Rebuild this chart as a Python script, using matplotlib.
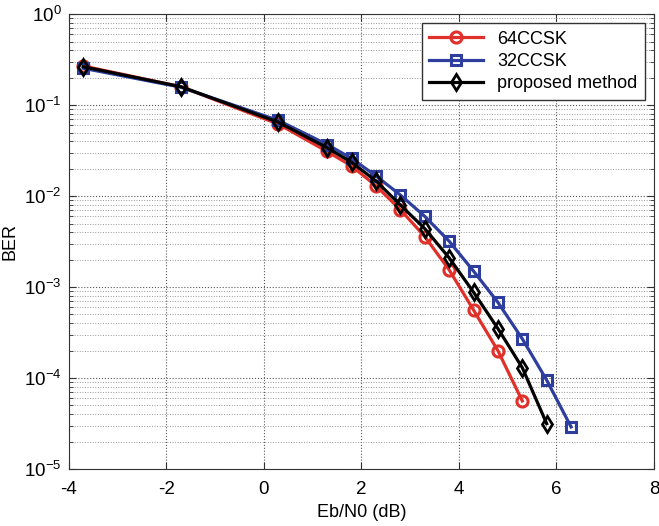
import matplotlib
matplotlib.use("Agg")
import matplotlib.pyplot as plt
from matplotlib.ticker import LogLocator, NullFormatter

plt.rcParams["font.family"] = ["Liberation Sans", "DejaVu Sans"]
plt.rcParams["axes.unicode_minus"] = False

ebn0 = [-3.7, -1.7, 0.3, 1.3, 1.8, 2.3, 2.8, 3.3, 3.8, 4.3, 4.8, 5.3, 5.8, 6.3]

ber_64 = [0.27, 0.16, 0.062, 0.031, 0.0215, 0.013, 0.0071, 0.0036,
          0.00155, 5.6e-4, 2.0e-4, 5.6e-5]
ber_32 = [0.255, 0.158, 0.068, 0.037, 0.026, 0.0167, 0.0103, 0.006,
          0.0032, 1.5e-3, 6.8e-4, 2.7e-4, 9.5e-5, 2.9e-5]
ber_prop = [0.265, 0.16, 0.065, 0.034, 0.0236, 0.0147, 0.008, 0.0044,
            0.0021, 8.8e-4, 3.5e-4, 1.3e-4, 3.15e-5]

fig = plt.figure(figsize=(6.59, 5.26), dpi=100)
ax = fig.add_axes([0.1042, 0.1084, 0.8882, 0.8644])

ax.semilogy(ebn0[:len(ber_64)], ber_64, color="#e0302a", lw=2.3, marker="o",
            ms=8, mfc="none", mew=2.2, label="64CCSK")
ax.semilogy(ebn0[:len(ber_32)], ber_32, color="#2e3e9e", lw=2.3, marker="s",
            ms=7.5, mfc="none", mew=2.2, label="32CCSK")
ax.semilogy(ebn0[:len(ber_prop)], ber_prop, color="black", lw=2.3, marker="d",
            ms=8, mfc="none", mew=2.0, label="proposed method")

ax.set_xlim(-4, 8)
ax.set_ylim(1e-5, 1)
ax.set_xticks([-4, -2, 0, 2, 4, 6, 8])
ax.yaxis.set_major_locator(LogLocator(base=10, numticks=10))
ax.yaxis.set_minor_locator(LogLocator(base=10, subs=range(2, 10), numticks=10))
ax.yaxis.set_minor_formatter(NullFormatter())

ax.grid(True, which="major", linestyle=":", color="0.35", lw=0.8)
ax.grid(True, which="minor", axis="y", linestyle=":", color="0.6", lw=0.7)

ax.tick_params(which="both", direction="in", top=True, right=True,
               labelsize=13.5, color="0.2")
ax.tick_params(which="major", length=5)
ax.tick_params(which="minor", length=3)
ax.tick_params(axis="x", pad=9)
ax.tick_params(axis="y", pad=5)
for s in ax.spines.values():
    s.set_color("0.2")

ax.set_xlabel("Eb/N0 (dB)", fontsize=13)
ax.set_ylabel("BER", fontsize=13, labelpad=4)

leg = ax.legend(loc="upper right", fontsize=13, fancybox=False,
                framealpha=1, edgecolor="0.2", handlelength=3,
                borderaxespad=0.5, labelspacing=0.3)
leg.get_frame().set_linewidth(1.0)

fig.savefig("out.png", dpi=100)
plt.close(fig)
